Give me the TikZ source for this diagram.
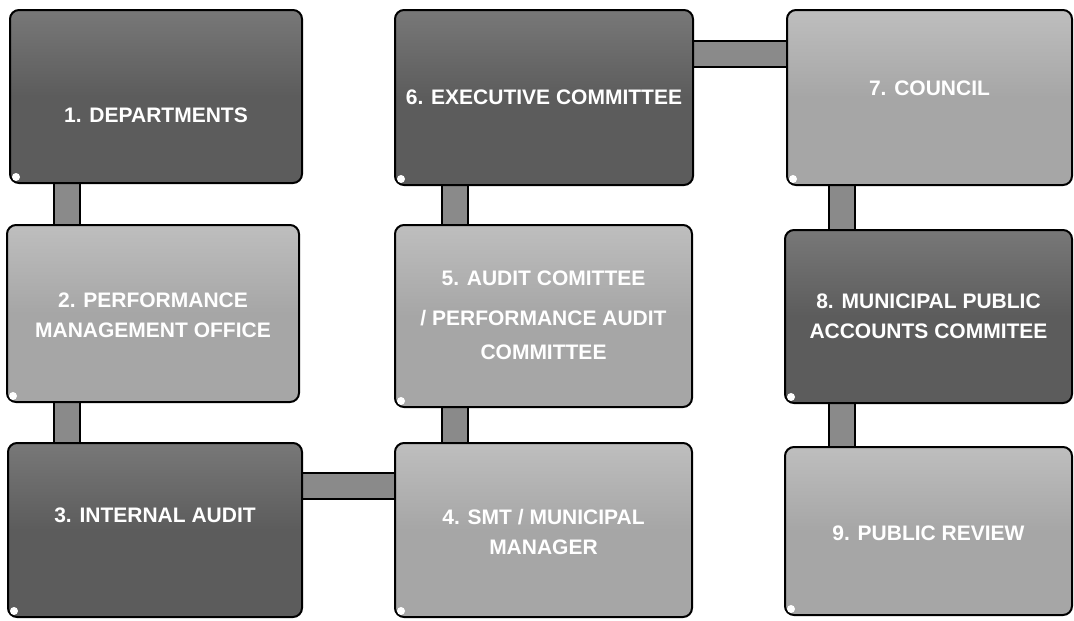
\documentclass[tikz,border=0pt]{standalone}
\usepackage{fontspec}
\newfontfamily\boxfont{Liberation Sans}
\usetikzlibrary{backgrounds}
\definecolor{darkbox}{HTML}{5C5C5C}
\definecolor{darkboxtop}{HTML}{787878}
\definecolor{lightbox}{HTML}{A6A6A6}
\definecolor{lightboxtop}{HTML}{BEBEBE}
\definecolor{barfill}{HTML}{8A8A8A}
\tikzset{
  boxbase/.style={draw=black, line width=2pt, rounded corners=9pt, inner sep=0pt},
  darkstep/.style={boxbase, top color=darkboxtop, bottom color=darkbox, middle color=darkbox},
  lightstep/.style={boxbase, top color=lightboxtop, bottom color=lightbox, middle color=lightbox},
  lbl/.style={font=\boxfont\bfseries\fontsize{21}{30}\selectfont, text=white, align=center, inner sep=0pt},
  barline/.style={line width=2pt, double=barfill, double distance=24pt}
}
\begin{document}
\begin{tikzpicture}[x=1pt,y=-1pt]
\useasboundingbox (0,0) rectangle (1074,621);
% boxes
\node[darkstep, minimum width=292pt, minimum height=173pt,
  label={[lbl,yshift=-19pt]center:1. DEPARTMENTS}] (b1) at (156,96.5) {};
\node[darkstep, minimum width=298pt, minimum height=175pt,
  label={[lbl]center:6. EXECUTIVE COMMITTEE}] (b6) at (544,97.5) {};
\node[lightstep, minimum width=285pt, minimum height=175pt,
  label={[lbl,yshift=9pt]center:7. COUNCIL}] (b7) at (929.5,97.5) {};
\node[lightstep, minimum width=292pt, minimum height=177pt,
  label={[lbl,yshift=-2pt]center:{2. PERFORMANCE\\MANAGEMENT OFFICE}}] (b2) at (153,313.5) {};
\node[lightstep, minimum width=297pt, minimum height=182pt,
  label={[lbl,yshift=1pt,font=\boxfont\bfseries\fontsize{21}{34}\selectfont]center:{5. AUDIT COMITTEE\\[6pt]/ PERFORMANCE AUDIT\\COMMITTEE}}] (b5) at (543.5,316) {};
\node[darkstep, minimum width=287pt, minimum height=173pt,
  label={[lbl]center:{8. MUNICIPAL PUBLIC\\ACCOUNTS COMMITEE}}] (b8) at (928.5,316.5) {};
\node[darkstep, minimum width=294pt, minimum height=174pt,
  label={[lbl,yshift=15pt]center:3. INTERNAL AUDIT}] (b3) at (155,530) {};
\node[lightstep, minimum width=297pt, minimum height=174pt,
  label={[lbl,yshift=-2pt]center:{4. SMT / MUNICIPAL\\MANAGER}}] (b4) at (543.5,530) {};
\node[lightstep, minimum width=287pt, minimum height=168pt,
  label={[lbl,yshift=-2pt]center:9. PUBLIC REVIEW}] (b9) at (928.5,531) {};
% small page curls at bottom-left corners
\foreach \b in {b1,b6,b7,b2,b5,b8,b3,b4,b9}{
  \fill[white] ([shift={(7,-7)}]\b.south west) circle (4pt);
}
% connectors
\begin{pgfonlayer}{background}
\draw[barline] ([xshift=58pt]b1.south west) -- ([xshift=58pt]b1.south west |- b2.north);
\draw[barline] ([xshift=61pt]b2.south west) -- ([xshift=61pt]b2.south west |- b3.north);
\draw[barline] (b3.east |- 0,486) -- (b4.west |- 0,486);
\draw[barline] ([xshift=61pt]b4.north west) -- ([xshift=61pt]b4.north west |- b5.south);
\draw[barline] ([xshift=61pt]b5.north west) -- ([xshift=61pt]b5.north west |- b6.south);
\draw[barline] (b6.east |- 0,54) -- (b7.west |- 0,54);
\draw[barline] ([xshift=56pt]b7.south west) -- ([xshift=56pt]b7.south west |- b8.north);
\draw[barline] ([xshift=58pt]b8.south west) -- ([xshift=58pt]b8.south west |- b9.north);
\end{pgfonlayer}
\end{tikzpicture}
\end{document}
